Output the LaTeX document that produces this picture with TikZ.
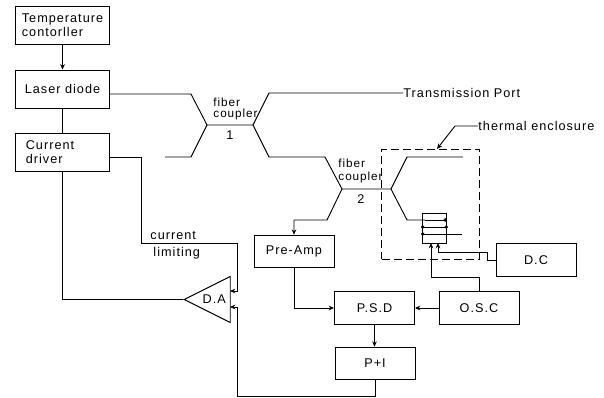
\documentclass[tikz,border=0pt]{standalone}
\usepackage{fontspec}
\setmainfont[LetterSpace=8]{Liberation Sans}
\usepackage{tikz}
\usetikzlibrary{arrows.meta, shapes.geometric}

\begin{document}
\begin{tikzpicture}[x=0.75pt, y=-0.75pt, line width=0.7pt,
        font=\fontsize{9.5}{10.5}\selectfont,
        sysbox/.style={rectangle, draw, minimum width=60pt, minimum height=24.5pt, inner sep=0pt, align=center},
        bigbox/.style={rectangle, draw, minimum width=70pt, minimum height=28.5pt, inner sep=0pt, align=left},
        lbl/.style={inner sep=0pt, anchor=west},
        sig/.style={-{Stealth[length=4pt,width=3.5pt]}},
        dot/.style={{Circle[length=2.5pt]}-{Circle[length=2.5pt]}}]
        \useasboundingbox (0,0) rectangle (604,398);

        \node (tc) at (62.5,25) [bigbox] {Temperature\\contorller};
        \node (ld) at (62.5,89) [bigbox] {\raisebox{-3pt}{Laser diode}};
        \node (cd) at (62.5,152.5) [bigbox, text width=55pt, inner xsep=7.5pt] {Current\\driver};
        \node (pre) at (294,251.5) [sysbox] {Pre-Amp};
        \node (psd) at (374.5,308) [sysbox] {P.S.D};
        \node (osc) at (479,308) [sysbox] {O.S.C};
        \node (pi) at (375,363.5) [sysbox] {P+I};
        \node (dc) at (536,260) [sysbox] {D.C};
        \node (da) at (183,299.5) [isosceles triangle, shape border rotate=180, isosceles triangle stretches, anchor=apex, minimum width=34.5pt, minimum height=34.5pt, inner sep=0pt, draw] {D.A};
        \node (coil) at (434.5,228) [rectangle, draw, minimum width=18.5pt, minimum height=22.5pt, inner sep=0pt] {};
        \node (encl) at (430.5,204) [rectangle, draw, dash pattern=on 6pt off 3pt, minimum width=73pt, minimum height=82.5pt, inner sep=0pt] {};

        \node (port) at (403,93) [lbl] {Transmission Port};
        \node (therm) at (478,126) [lbl] {thermal enclosure};
        \node (limit) at (150,235) [lbl] {current};
        \node (limit2) at (153,253) [lbl] {limiting};
        \node (fc1) at (213,109) [lbl, align=left, font=\fontsize{8.8}{8.5}\selectfont] {fiber\\coupler};
        \node (fc1n) at (230,135) {1};
        \node (fc2) at (338,171) [lbl, align=left, font=\fontsize{8.8}{10}\selectfont] {fiber\\coupler};
        \node (fc2n) at (361,199) {2};

        \coordinate (a0) at (191,94);
        \coordinate (a1) at (207,125);
        \coordinate (a2) at (253,125);
        \coordinate (b1) at (342,189);
        \coordinate (b2) at (391,189);
        \coordinate (b3) at (327,220);
        \coordinate (encltop) at (437,149);

        \draw[sig] (tc.south) -- (ld.north);
        \draw (ld.south) -- (cd.north);

        % first coupler
        \draw (ld.east |- a0) -- (a0) -- (a1) -- (a2) -- (269,93) -- (port.west);
        \draw (165,157) -- (191,157) -- (a1);
        \draw (a2) -- (269,157) -- (325,157) -- (b1);

        % second coupler and coil
        \draw (b1) -- (b2) -- (407,157) -- (463,157);
        \draw[sig] (b1) -- (b3) -- (b3 -| pre.north) -- (pre.north);
        \draw (b2) -- (407,220) -- (425,220);
        \draw[{Circle[length=2.5pt]}-] (447,220) -- (425,220);
        \draw[dot] (421,227) -- (448,227);
        \draw[{Circle[length=2.5pt]}-] (421,234) -- (462,234);

        \draw[sig] (therm.west) -- (455,126) -- (encltop);

        % feedback
        \draw[sig] (dc.west) -- (487,260) -- (487,252) -- (438,252) -- (438,243);
        \draw[sig] (osc.north) -- (479,277) -- (431,277) -- (431,243);
        \draw[sig] (osc.west) -- (psd.east);
        \draw[sig] (pre.south) -- (pre.south |- psd.west) -- (psd.west);
        \draw[sig] (psd.south) -- (psd.south |- pi.north);
        \draw[sig] (pi.south) -- (375,396) -- (237,396) -- (237,307) -- (230,307);
        \draw[sig] (cd.east |- 141,157) -- (141,157) -- (141,243) -- (237,243) -- (237,291) -- (230,291);
        \draw (cd.south) -- (cd.south |- da.apex) -- (da.apex);
    \end{tikzpicture}
\end{document}
